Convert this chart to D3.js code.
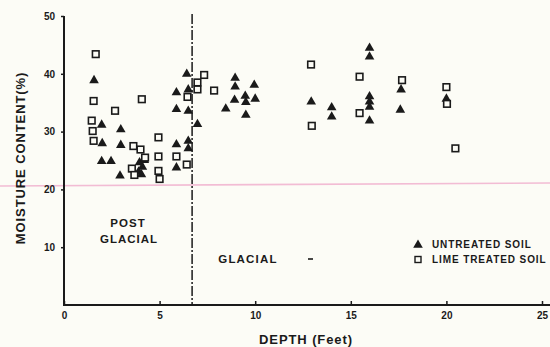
<!DOCTYPE html>
<html>
<head>
<meta charset="utf-8">
<script src="https://cdn.jsdelivr.net/npm/d3@7/dist/d3.min.js"></script>
<style>
  html, body { margin: 0; padding: 0; background: #fcfcf6; }
  svg { display: block; }
  text { font-family: "Liberation Sans", Arial, sans-serif; font-weight: bold; fill: #1a1a1a; }
</style>
</head>
<body>
<svg id="chart" width="550" height="347"></svg>
<script>
// Moisture content vs depth, untreated and lime-treated soil samples
const untreatedDepth = [1.57, 1.97, 2.0, 1.97, 2.46, 2.97, 2.97, 2.93,
  3.95, 4.1, 3.9, 4.05, 4.2,
  5.88, 5.88, 5.88, 5.88,
  6.42, 6.5, 6.5, 6.5, 6.5, 6.98,
  8.46, 8.95, 8.95, 8.92, 9.48, 9.51, 9.51, 9.95, 10.0,
  12.93, 14.0, 14.0,
  15.98, 15.98, 15.98, 15.98, 15.98, 15.98,
  17.63, 17.59, 20.0];
const untreatedMoisture = [39.0, 31.3, 28.1, 25.0, 25.0, 30.5, 27.8, 22.5,
  24.8, 24.0, 23.2, 22.7, 25.2,
  36.9, 34.0, 27.9, 23.9,
  40.1, 37.4, 33.7, 28.5, 27.2, 31.4,
  34.1, 39.4, 37.9, 35.6, 36.3, 35.2, 33.0, 38.2, 35.8,
  35.3, 34.3, 32.7,
  44.6, 43.1, 36.2, 35.3, 34.4, 32.0,
  37.4, 33.9, 35.8];

const limeDepth = [1.66, 1.55, 1.45, 1.5, 1.55, 2.67, 3.63, 4.0, 4.07, 4.94,
  4.94, 4.24, 3.55, 3.68, 4.94, 5.0, 5.88, 6.42, 6.46, 6.98,
  6.98, 7.33, 7.85, 12.92, 12.96, 15.46, 15.46, 17.68, 20.0, 20.03, 20.47];
const limeMoisture = [43.4, 35.3, 31.9, 30.1, 28.4, 33.6, 27.5, 26.9, 35.6, 29.0,
  25.7, 25.5, 23.6, 22.5, 23.2, 21.8, 25.7, 24.3, 36.0, 38.5,
  37.3, 39.8, 37.1, 41.6, 31.0, 39.5, 33.2, 38.9, 37.7, 34.8, 27.1];

const xTicks = [0, 5, 10, 15, 20, 25];
const yTicks = [10, 20, 30, 40, 50];
const boundaryDepth = 6.7;   // post-glacial / glacial contact
const legendLabels = ["UNTREATED  SOIL", "LIME TREATED SOIL"];

const svg = d3.select("#chart");
const x = d3.scaleLinear().domain([0, 25]).range([64, 542]);
const y = d3.scaleLinear().domain([0, 50]).range([305, 16]);
const ink = "#1a1a1a";

// faint pink streak across the sheet
svg.append("line")
  .attr("x1", 0).attr("x2", 550)
  .attr("y1", 186).attr("y2", 183)
  .attr("stroke", "#f2bcd4").attr("stroke-width", 1.6);

// axes
const xAxis = svg.append("g").attr("transform", `translate(0,${y(0)})`)
  .call(d3.axisBottom(x).tickValues(xTicks).tickSize(-4).tickSizeOuter(0).tickPadding(11));
const yAxis = svg.append("g").attr("transform", `translate(${x(0)},0)`)
  .call(d3.axisLeft(y).tickValues(yTicks).tickSize(3).tickSizeOuter(0).tickPadding(6));
[xAxis, yAxis].forEach(g => {
  g.select(".domain").remove();
  g.selectAll("line").attr("stroke", ink).attr("stroke-width", 1.5);
  g.selectAll("text").attr("font-size", 10).attr("fill", ink)
    .attr("font-family", "Liberation Sans, Arial, sans-serif").attr("font-weight", "bold");
});
xAxis.selectAll("text").attr("dy", "0.3em");

// axis lines (x axis runs on past the last tick)
svg.append("line").attr("x1", x(0)).attr("x2", 550).attr("y1", y(0)).attr("y2", y(0))
  .attr("stroke", ink).attr("stroke-width", 2);
svg.append("line").attr("x1", x(0)).attr("x2", x(0)).attr("y1", y(50)).attr("y2", y(0) + 1)
  .attr("stroke", ink).attr("stroke-width", 2);

// boundary line
svg.append("line")
  .attr("x1", x(boundaryDepth)).attr("x2", x(boundaryDepth))
  .attr("y1", 14).attr("y2", y(0))
  .attr("stroke", ink).attr("stroke-width", 1.5)
  .attr("stroke-dasharray", "10,2,2,2");

// axis titles
svg.append("text")
  .attr("transform", "translate(25,158) rotate(-90)")
  .attr("text-anchor", "middle").attr("font-size", 13)
  .attr("letter-spacing", 0.9)
  .text("MOISTURE CONTENT(%)");
svg.append("text")
  .attr("x", 306).attr("y", 344)
  .attr("text-anchor", "middle").attr("font-size", 13)
  .attr("letter-spacing", 0.9)
  .text("DEPTH (Feet)");

// zone labels
svg.append("text").attr("x", 128).attr("y", 227).attr("text-anchor", "middle")
  .attr("font-size", 11.5).attr("letter-spacing", 1).text("POST");
svg.append("text").attr("x", 129).attr("y", 243).attr("text-anchor", "middle")
  .attr("font-size", 11.5).attr("letter-spacing", 1).text("GLACIAL");
svg.append("text").attr("x", 248).attr("y", 263).attr("text-anchor", "middle")
  .attr("font-size", 11.5).attr("letter-spacing", 1.2).text("GLACIAL");
svg.append("line").attr("x1", 308).attr("x2", 313).attr("y1", 259).attr("y2", 259)
  .attr("stroke", ink).attr("stroke-width", 1.6);

// markers
const tri = d3.symbol().type(d3.symbolTriangle).size(40);
svg.append("g").selectAll("path")
  .data(untreatedDepth.map((d, i) => [d, untreatedMoisture[i]]))
  .join("path")
  .attr("d", tri)
  .attr("transform", d => `translate(${x(d[0])},${y(d[1]) + 0.8})`)
  .attr("fill", ink);

svg.append("g").selectAll("rect")
  .data(limeDepth.map((d, i) => [d, limeMoisture[i]]))
  .join("rect")
  .attr("x", d => x(d[0]) - 3.3).attr("y", d => y(d[1]) - 3.3)
  .attr("width", 6.6).attr("height", 6.6)
  .attr("fill", "#fcfcf6").attr("stroke", ink).attr("stroke-width", 1.6);

// legend
const legend = svg.append("g");
legend.append("path").attr("d", tri).attr("transform", "translate(418,245)").attr("fill", ink);
legend.append("rect").attr("x", 415).attr("y", 256.5).attr("width", 6).attr("height", 6)
  .attr("fill", "#fcfcf6").attr("stroke", ink).attr("stroke-width", 1.4);
legend.selectAll("text.lg").data(legendLabels).join("text")
  .attr("class", "lg")
  .attr("x", 432).attr("y", (d, i) => 248 + i * 15)
  .attr("font-size", 10).attr("letter-spacing", 0.9)
  .text(d => d);
</script>
</body>
</html>
